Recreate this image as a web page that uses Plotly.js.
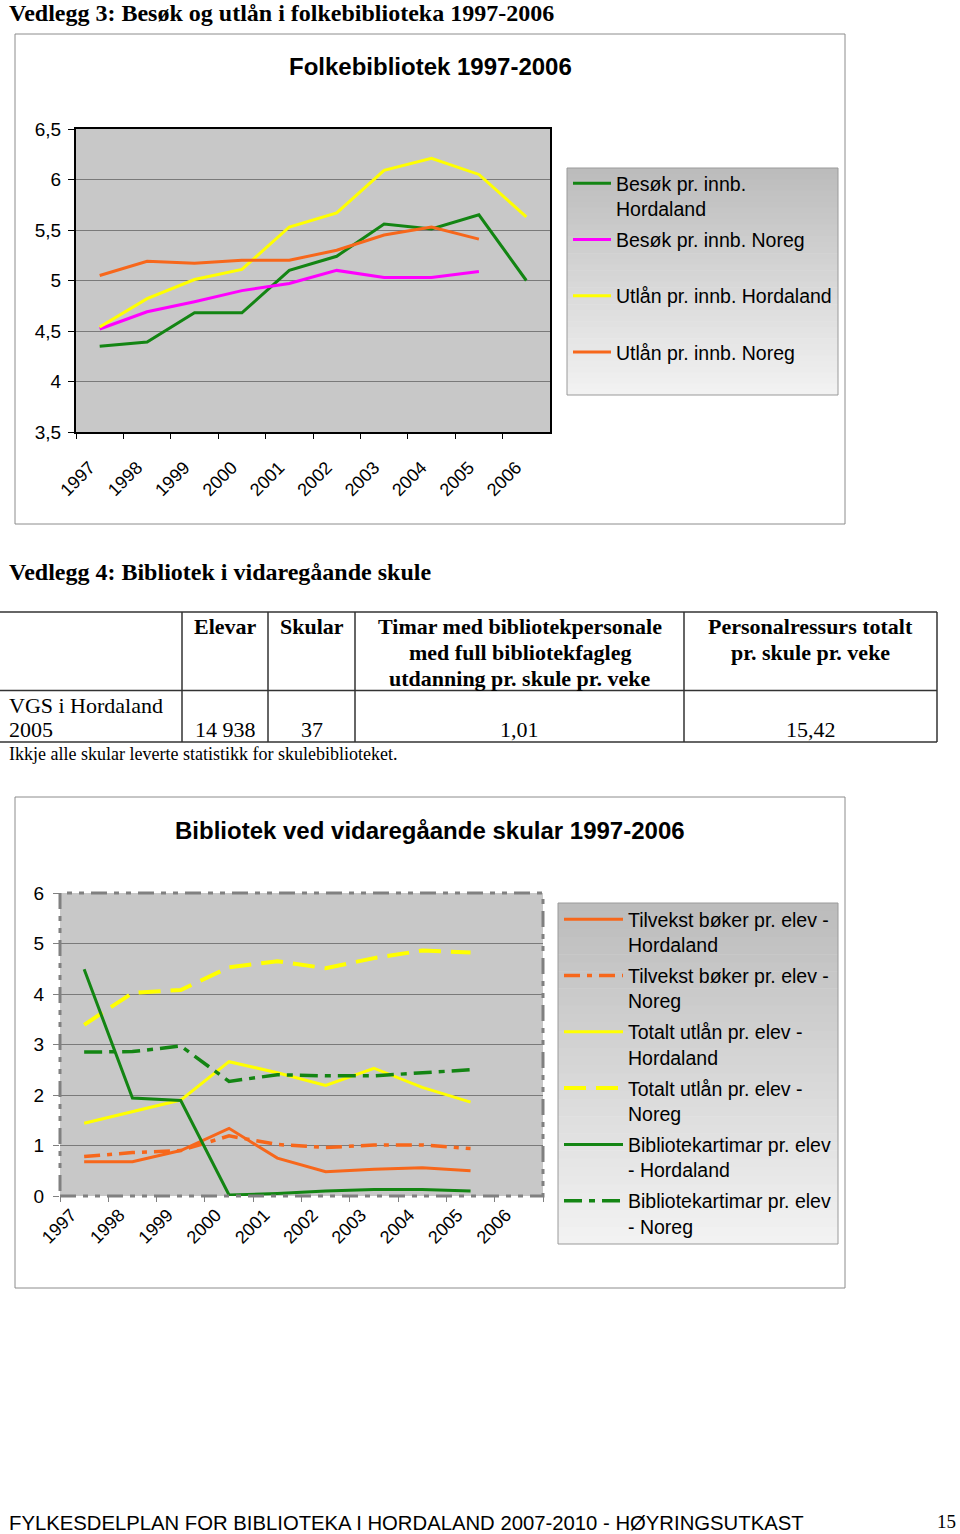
<!DOCTYPE html>
<html><head><meta charset="utf-8">
<script src="https://cdn.plot.ly/plotly-3.0.1.min.js"></script>
<style>html,body{margin:0;padding:0;background:#fff}#chart{width:960px;height:1534px}</style>
</head><body><div id="chart"></div>
<script>
// ---------- DATA ----------
const years = ['1997','1998','1999','2000','2001','2002','2003','2004','2005','2006'];

// Chart 1: Folkebibliotek 1997-2006
const besokHordaland = [4.35, 4.39, 4.68, 4.68, 5.10, 5.24, 5.56, 5.51, 5.65, 5.00];
const besokNoreg     = [4.52, 4.69, 4.79, 4.90, 4.97, 5.10, 5.03, 5.03, 5.09, null];
const utlanHordaland = [4.54, 4.82, 5.01, 5.11, 5.53, 5.67, 6.09, 6.21, 6.05, 5.63];
const utlanNoreg     = [5.05, 5.19, 5.17, 5.20, 5.20, 5.30, 5.45, 5.53, 5.41, null];
const chart1Names = ['Besøk pr. innb.<br>Hordaland', 'Besøk pr. innb. Noreg<br>&nbsp;', 'Utlån pr. innb. Hordaland<br>&nbsp;', 'Utlån pr. innb. Noreg<br>&nbsp;'];
const chart1TickVals = [3.5, 4, 4.5, 5, 5.5, 6, 6.5];
const chart1TickText = ['3,5', '4', '4,5', '5', '5,5', '6', '6,5'];

// Chart 2: Bibliotek ved vidaregåande skular 1997-2006
const tilvekstHordaland  = [0.68, 0.68, 0.90, 1.34, 0.75, 0.48, 0.53, 0.56, 0.50, null];
const tilvekstNoreg      = [0.78, 0.86, 0.90, 1.19, 1.02, 0.96, 1.01, 1.01, 0.94, null];
const utlanElevHordaland = [1.44, 1.67, 1.90, 2.66, 2.44, 2.19, 2.53, 2.15, 1.86, null];
const utlanElevNoreg     = [3.39, 4.02, 4.08, 4.53, 4.65, 4.51, 4.71, 4.86, 4.82, null];
const timarHordaland     = [4.49, 1.94, 1.89, 0.02, 0.05, 0.10, 0.13, 0.13, 0.10, null];
const timarNoreg         = [2.85, 2.86, 2.97, 2.27, 2.40, 2.38, 2.38, 2.44, 2.50, null];
const chart2Names = ['Tilvekst bøker pr. elev -<br>Hordaland', 'Tilvekst bøker pr. elev -<br>Noreg',
  'Totalt utlån pr. elev -<br>Hordaland', 'Totalt utlån pr. elev -<br>Noreg',
  'Bibliotekartimar pr. elev<br>- Hordaland', 'Bibliotekartimar pr. elev<br>- Noreg'];
const chart2TickVals = [0, 1, 2, 3, 4, 5, 6];
const chart2TickText = ['0', '1', '2', '3', '4', '5', '6'];

// Table: Vedlegg 4
const tableHeaders = [['Elevar'], ['Skular'],
  ['Timar med bibliotekpersonale', 'med full bibliotekfagleg', 'utdanning pr. skule pr. veke'],
  ['Personalressurs totalt', 'pr. skule pr. veke']];
const tableRowLabel = ['VGS i Hordaland', '2005'];
const tableRowValues = ['14 938', '37', '1,01', '15,42'];

// Texts
const heading3 = 'Vedlegg 3: Besøk og utlån i folkebiblioteka 1997-2006';
const heading4 = 'Vedlegg 4: Bibliotek i vidaregåande skule';
const chart1Title = 'Folkebibliotek 1997-2006';
const chart2Title = 'Bibliotek ved vidaregåande skular 1997-2006';
const tableNote = 'Ikkje alle skular leverte statistikk for skulebiblioteket.';
const footerText = 'FYLKESDELPLAN FOR BIBLIOTEKA I HORDALAND 2007-2010 - HØYRINGSUTKAST';
const pageNumber = '15';

// ---------- LAYOUT HELPERS ----------
const W = 960, H = 1534;
const X = px => px / W;
const Y = py => 1 - py / H;
const SANS = 'Arial, "Liberation Sans", sans-serif';
const SERIF = '"Times New Roman", "Liberation Serif", serif';
const GREEN = '#138513', MAGENTA = '#ff00ff', YELLOW = '#ffff00', ORANGE = '#f7671b';

function tr(y, name, color, axes, legend, dash, width, grp) {
  return {type: 'scatter', mode: 'lines', x: years, y: y, name: name,
    xaxis: axes[0], yaxis: axes[1], legend: legend, legendgroup: grp,
    line: {color: color, width: width, dash: dash || 'solid'}, connectgaps: false, hoverinfo: 'skip'};
}
const A1 = ['x', 'y'], A2 = ['x2', 'y2'];
const data = [
  tr(besokHordaland, chart1Names[0], GREEN, A1, 'legend', 'solid', 3, 'a1'),
  tr(besokNoreg, chart1Names[1], MAGENTA, A1, 'legend', 'solid', 3, 'a2'),
  tr(utlanHordaland, chart1Names[2], YELLOW, A1, 'legend', 'solid', 3, 'a3'),
  tr(utlanNoreg, chart1Names[3], ORANGE, A1, 'legend', 'solid', 3, 'a4'),
  tr(tilvekstHordaland, chart2Names[0], ORANGE, A2, 'legend2', 'solid', 3, 'b1'),
  tr(tilvekstNoreg, chart2Names[1], ORANGE, A2, 'legend2', '16px,7px,5px,7px', 3.5, 'b2'),
  tr(utlanElevHordaland, chart2Names[2], YELLOW, A2, 'legend2', 'solid', 3, 'b3'),
  tr(utlanElevNoreg, chart2Names[3], YELLOW, A2, 'legend2', '22px,10px', 4, 'b4'),
  tr(timarHordaland, chart2Names[4], GREEN, A2, 'legend2', 'solid', 3, 'b5'),
  tr(timarNoreg, chart2Names[5], GREEN, A2, 'legend2', '18px,7px,6px,7px', 3.5, 'b6'),
];

const shapes = [];
const annotations = [];
function rect(x0, y0, x1, y1, line, fill, layer) {
  shapes.push({type: 'rect', xref: 'paper', yref: 'paper', x0: X(x0), x1: X(x1), y0: Y(y0), y1: Y(y1),
    line: line || {width: 0}, fillcolor: fill || 'rgba(0,0,0,0)', layer: layer || 'below'});
}
function hline(x0, x1, y, color, w) {
  shapes.push({type: 'line', xref: 'paper', yref: 'paper', x0: X(x0), x1: X(x1), y0: Y(y), y1: Y(y), line: {color: color, width: w}, layer: 'above'});
}
function vline(x, y0, y1, color, w) {
  shapes.push({type: 'line', xref: 'paper', yref: 'paper', x0: X(x), x1: X(x), y0: Y(y0), y1: Y(y1), line: {color: color, width: w}, layer: 'above'});
}
function text(t, x, y, font, xanchor, yanchor) {
  annotations.push({text: t, x: X(x), y: Y(y), xref: 'paper', yref: 'paper', showarrow: false,
    xanchor: xanchor || 'left', yanchor: yanchor || 'middle', font: font, borderpad: 0, align: xanchor === 'center' ? 'center' : 'left'});
}
function gradientBox(x0, y0, x1, y1) {
  const n = 40, c0 = 188, c1 = 242;
  for (let i = 0; i < n; i++) {
    const c = Math.round(c0 + (c1 - c0) * i / (n - 1));
    const ya = y0 + (y1 - y0) * i / n, yb = y0 + (y1 - y0) * (i + 1) / n + 0.6;
    rect(x0, ya, x1, Math.min(yb, y1), {width: 0}, `rgb(${c},${c},${c})`);
  }
  rect(x0, y0, x1, y1, {color: '#9a9a9a', width: 1});
}

// Chart frames
rect(15, 34, 845, 524, {color: '#8c8c8c', width: 1});
rect(15, 797, 845, 1288, {color: '#8c8c8c', width: 1});
// Legend boxes
gradientBox(567, 168, 838, 395);
gradientBox(558, 903, 838, 1244);
// Chart 2 dashed plot border
shapes.push({type: 'rect', xref: 'x2 domain', yref: 'y2 domain', x0: 0, x1: 1, y0: 0, y1: 1,
  line: {color: '#808080', width: 3, dash: '16px,7px,5px,7px,5px,7px'}, layer: 'above'});

// Table lines
const TBL = '#333333';
hline(0, 937, 612, TBL, 1.5);
hline(0, 937, 690.5, TBL, 1.5);
hline(0, 937, 742, TBL, 1.5);
vline(182, 612, 742, TBL, 1.5);
vline(268, 612, 742, TBL, 1.5);
vline(355, 612, 742, TBL, 1.5);
vline(684, 612, 742, TBL, 1.5);
vline(937, 612, 742, TBL, 1.5);

// Texts
const hFont = {family: SERIF, size: 24, color: '#000'};
text('<b>' + heading3 + '</b>', 8, 13, hFont);
text('<b>' + heading4 + '</b>', 8, 572, hFont);
text('<b>' + chart1Title + '</b>', 430, 66, {family: SANS, size: 24, color: '#000'}, 'center');
text('<b>' + chart2Title + '</b>', 430, 830, {family: SANS, size: 24, color: '#000'}, 'center');
const thFont = {family: SERIF, size: 22, color: '#000'};
const tdFont = {family: SERIF, size: 22, color: '#000'};
const colCenters = [225, 311.5, 519.5, 810.5];
tableHeaders.forEach((lines, i) => lines.forEach((ln, j) => text('<b>' + ln + '</b>', colCenters[i], 626 + 26 * j, thFont, 'center')));
tableRowLabel.forEach((ln, j) => text(ln, 8, 705 + 24 * j, tdFont));
tableRowValues.forEach((v, i) => text(v, colCenters[i], 729, tdFont, 'center'));
text(tableNote, 8, 754, {family: SERIF, size: 18, color: '#000'});
text(footerText, 8, 1523, {family: SANS, size: 20.3, color: '#000'});
text(pageNumber, 946, 1521, {family: SERIF, size: 19, color: '#000'}, 'center');

const tickFont = {family: SANS, size: 18, color: '#000'};
const ytickFont = {family: SANS, size: 19, color: '#000'};
const layout = {
  width: W, height: H, autosize: false,
  margin: {l: 0, r: 0, t: 0, b: 0, pad: 0},
  paper_bgcolor: '#ffffff', plot_bgcolor: '#c8c8c8',
  showlegend: true,
  xaxis: {domain: [X(76), X(550)], anchor: 'y', type: 'category', categoryarray: years, range: [-0.5, 9.5],
    tickson: 'boundaries', ticks: 'outside', ticklen: 5, tickcolor: '#000', tickangle: -45,
    tickfont: tickFont, showgrid: false, showline: true, mirror: true, linecolor: '#000', linewidth: 2,
    ticklabelstandoff: 16, ticklabelshift: -10, zeroline: false, fixedrange: true},
  yaxis: {domain: [Y(432), Y(129)], anchor: 'x', range: [3.5, 6.5], tickvals: chart1TickVals, ticktext: chart1TickText,
    ticks: 'outside', ticklen: 6, tickcolor: '#000', tickfont: ytickFont, showgrid: true, gridcolor: '#7a7a7a', gridwidth: 1,
    showline: true, mirror: true, linecolor: '#000', linewidth: 2, zeroline: false, ticklabelstandoff: 3, fixedrange: true},
  xaxis2: {domain: [X(60), X(543)], anchor: 'y2', type: 'category', categoryarray: years, range: [-0.5, 9.5],
    tickson: 'boundaries', ticks: 'outside', ticklen: 5, tickcolor: '#808080', tickangle: -45,
    tickfont: tickFont, showgrid: false, showline: false, ticklabelstandoff: 4, ticklabelshift: -13, zeroline: false, fixedrange: true},
  yaxis2: {domain: [Y(1196), Y(893)], anchor: 'x2', range: [0, 6], tickvals: chart2TickVals, ticktext: chart2TickText,
    ticks: 'outside', ticklen: 6, tickcolor: '#808080', tickfont: ytickFont, showgrid: true, gridcolor: '#7a7a7a', gridwidth: 1,
    showline: false, zeroline: false, ticklabelstandoff: 5, fixedrange: true},
  legend: {x: X(568), y: Y(164), xanchor: 'left', yanchor: 'top', bgcolor: 'rgba(0,0,0,0)', borderwidth: 0,
    font: {family: SANS, size: 19.5, color: '#000'}, valign: 'top', tracegroupgap: 2.6, itemwidth: 38, itemclick: false, itemdoubleclick: false},
  legend2: {x: X(559), y: Y(900), xanchor: 'left', yanchor: 'top', bgcolor: 'rgba(0,0,0,0)', borderwidth: 0,
    font: {family: SANS, size: 19.5, color: '#000'}, valign: 'top', tracegroupgap: 2.6, itemwidth: 59, itemclick: false, itemdoubleclick: false},
  shapes: shapes,
  annotations: annotations,
};
Plotly.newPlot('chart', data, layout, {displayModeBar: false, staticPlot: true});
</script>
</body></html>
